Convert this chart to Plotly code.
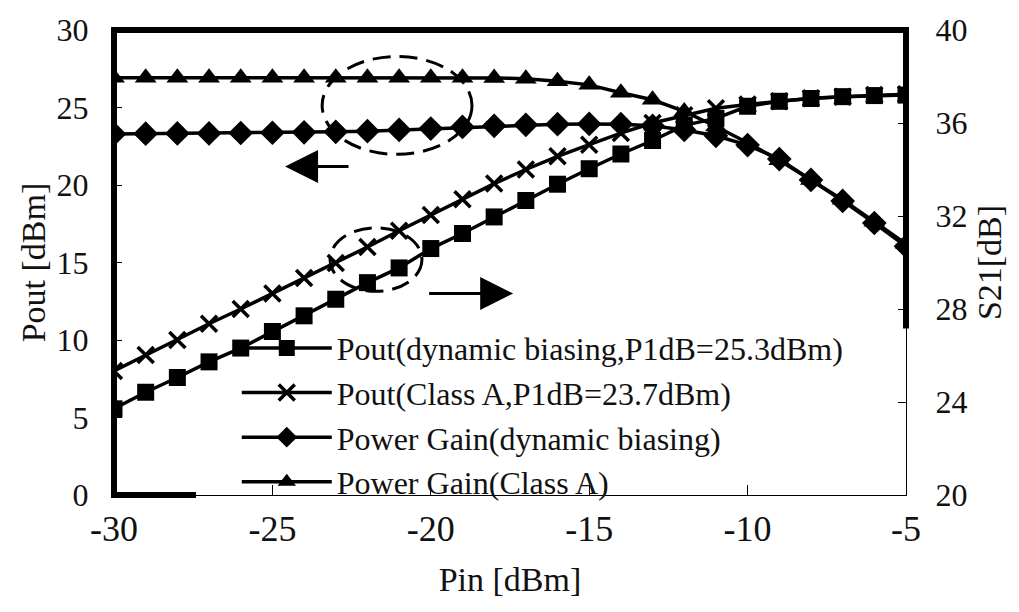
import plotly.graph_objects as go

pin = [-30, -29, -28, -27, -26, -25, -24, -23, -22, -21, -20, -19, -18, -17, -16,
       -15, -14, -13, -12, -11, -10, -9, -8, -7, -6, -5]

pout_dynamic = [5.56, 6.63, 7.58, 8.59, 9.48, 10.55, 11.56, 12.63, 13.7, 14.65, 15.9,
                16.87, 17.94, 19.0, 20.05, 21.05, 22.0, 22.87, 23.85, 24.3, 25.08,
                25.4, 25.58, 25.7, 25.77, 25.8]

pout_classA = [8.0, 9.03, 10.0, 11.05, 12.0, 13.0, 14.0, 14.97, 16.0, 17.05, 18.07,
               19.08, 20.09, 21.0, 21.85, 22.6, 23.35, 24.0, 24.5, 24.95, 25.2,
               25.4, 25.6, 25.7, 25.8, 25.85]

gain_dynamic = [35.53, 35.54, 35.55, 35.55, 35.57, 35.58, 35.6, 35.62, 35.65, 35.7,
                35.76, 35.83, 35.88, 35.92, 35.95, 35.96, 35.95, 35.88, 35.7, 35.45,
                35.05, 34.45, 33.55, 32.65, 31.7, 30.7]

gain_classA = [37.95, 37.95, 37.95, 37.95, 37.95, 37.95, 37.95, 37.95, 37.95, 37.95,
               37.95, 37.95, 37.94, 37.9, 37.8, 37.64, 37.3, 37.0, 36.5, 35.85,
               35.15, 34.4, 33.55, 32.7, 31.75, 30.8]

names = ["Pout(dynamic biasing,P1dB=25.3dBm)",
         "Pout(Class A,P1dB=23.7dBm)",
         "Power Gain(dynamic biasing)",
         "Power Gain(Class A)"]

x_ticks = [-30, -25, -20, -15, -10, -5]
x_ticktext = ["-30", "-25", "-20", "-15", "-10", "-5"]
y_ticks = [0, 5, 10, 15, 20, 25, 30]
y2_ticks = [20, 24, 28, 32, 36, 40]

FONT = "Liberation Serif"
INK = "#111111"

fig = go.Figure()

fig.add_trace(go.Scatter(
    x=pin, y=pout_dynamic, name=names[0], mode="lines+markers",
    line=dict(color="black", width=3.5),
    marker=dict(symbol="square", size=17, color="black")))

fig.add_trace(go.Scatter(
    x=pin, y=pout_classA, name=names[1], mode="lines+markers",
    line=dict(color="black", width=3.5),
    marker=dict(symbol="x-thin", size=16, color="black",
                line=dict(color="black", width=3.5))))

fig.add_trace(go.Scatter(
    x=pin, y=gain_dynamic, name=names[2], mode="lines+markers", yaxis="y2",
    line=dict(color="black", width=3.5),
    marker=dict(symbol="diamond", size=19, color="black")))

fig.add_trace(go.Scatter(
    x=pin, y=gain_classA, name=names[3], mode="lines+markers", yaxis="y2",
    line=dict(color="black", width=3.5),
    marker=dict(symbol="triangle-up", size=19, color="black")))

# thick frame (partly hidden behind the legend area)
fig.add_shape(type="path", xref="paper", yref="paper",
              path="M 0.1035,0 L 0,0 L 0,1 L 1,1 L 1,0.358",
              line=dict(color="black", width=6), layer="below")

# dashed ellipses
fig.add_shape(type="circle", xref="x", yref="y",
              x0=-23.43, x1=-18.7, y0=21.98, y1=28.29,
              line=dict(color="black", width=3, dash="18px,9px"))
fig.add_shape(type="circle", xref="x", yref="y",
              x0=-23.18, x1=-20.28, y0=13.14, y1=17.24,
              line=dict(color="black", width=3, dash="18px,9px"))

# arrows
fig.add_annotation(x=-24.6, y=21.2, ax=-22.55, ay=21.2, xref="x", yref="y",
                   axref="x", ayref="y", text="", showarrow=True,
                   arrowhead=2, arrowsize=2.2, arrowwidth=3, arrowcolor="black")
fig.add_annotation(x=-17.4, y=13.0, ax=-20.1, ay=13.0, xref="x", yref="y",
                   axref="x", ayref="y", text="", showarrow=True,
                   arrowhead=2, arrowsize=2.2, arrowwidth=3, arrowcolor="black")

fig.update_layout(
    width=1019, height=612,
    margin=dict(l=114, r=113, t=20, b=117),
    paper_bgcolor="white", plot_bgcolor="white",
    font=dict(family=FONT, color=INK, size=32),
    showlegend=True,
    legend=dict(x=0.155, y=0.375, xanchor="left", yanchor="top",
                bgcolor="rgba(0,0,0,0)", borderwidth=0,
                font=dict(family=FONT, size=32, color=INK),
                itemwidth=90, tracegroupgap=0),
    xaxis=dict(range=[-30, -5], tickvals=x_ticks, ticktext=x_ticktext,
               ticks="inside", ticklen=10,
               tickwidth=1, tickcolor="black", showline=True, linecolor="black",
               linewidth=1, showgrid=False, zeroline=False, ticklabelstandoff=2,
               tickfont=dict(family=FONT, size=36, color=INK),
               title=dict(text="Pin [dBm]", font=dict(family=FONT, size=34, color=INK),
                          standoff=18)),
    yaxis=dict(range=[0, 30], tickvals=y_ticks, ticks="inside", ticklen=8,
               tickwidth=1, tickcolor="black", showline=True, linecolor="black",
               linewidth=1, showgrid=False, zeroline=False,
               ticklabelstandoff=18,
               tickfont=dict(family=FONT, size=32, color=INK),
               title=dict(text="Pout [dBm]", font=dict(family=FONT, size=34, color=INK),
                          standoff=0)),
    yaxis2=dict(range=[20, 40], tickvals=y2_ticks, overlaying="y", side="right",
                ticks="inside", ticklen=8, tickwidth=1, tickcolor="black",
                showline=True, linecolor="black", linewidth=1, showgrid=False,
                zeroline=False, ticklabelstandoff=22,
                tickfont=dict(family=FONT, size=32, color=INK),
                title=dict(text="S21[dB]", font=dict(family=FONT, size=34, color=INK),
                           standoff=10)),
)

fig.write_html("out.html")
